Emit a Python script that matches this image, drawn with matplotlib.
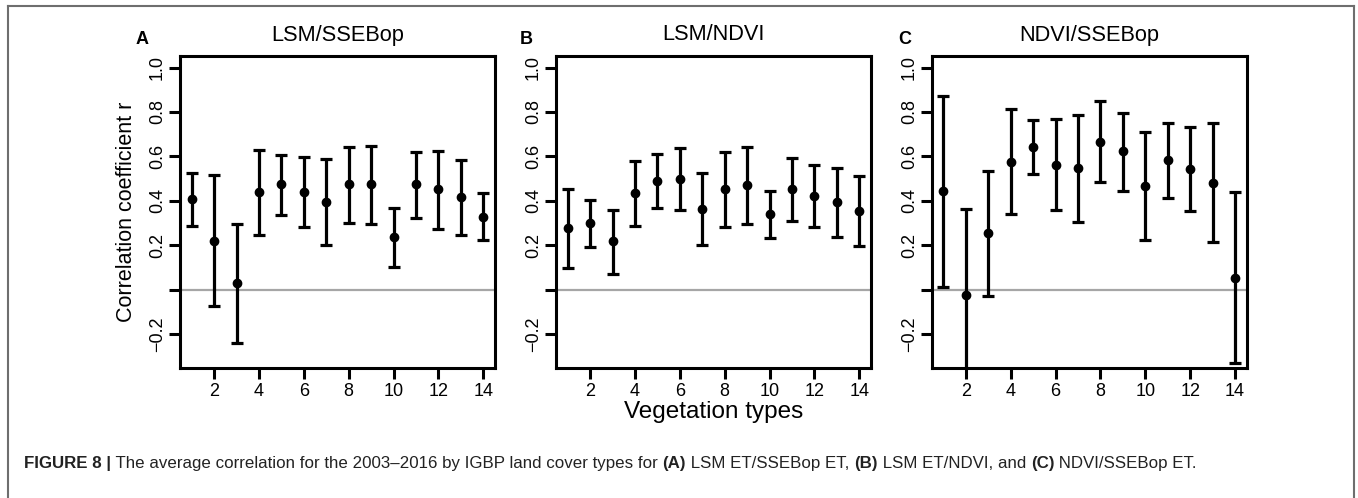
import matplotlib
matplotlib.use("Agg")
import matplotlib.pyplot as plt
from matplotlib import font_manager
from matplotlib.lines import Line2D

# ------------------------------------
# Datos
# ------------------------------------
tipos = list(range(1, 15))

titulos = ["LSM/SSEBop", "LSM/NDVI", "NDVI/SSEBop"]
letras = ["A", "B", "C"]

# LSM/SSEBop
media_a = [0.408, 0.219, 0.030, 0.441, 0.474, 0.439, 0.396, 0.474, 0.474, 0.236, 0.474, 0.451, 0.415, 0.328]
sup_a = [0.524, 0.516, 0.295, 0.629, 0.605, 0.599, 0.587, 0.644, 0.647, 0.366, 0.621, 0.624, 0.584, 0.436]
inf_a = [0.286, -0.074, -0.239, 0.245, 0.335, 0.283, 0.200, 0.298, 0.295, 0.102, 0.323, 0.272, 0.245, 0.223]

# LSM/NDVI
media_b = [0.278, 0.298, 0.219, 0.433, 0.490, 0.498, 0.364, 0.451, 0.470, 0.340, 0.451, 0.423, 0.393, 0.353]
sup_b = [0.454, 0.403, 0.358, 0.579, 0.611, 0.637, 0.524, 0.620, 0.641, 0.445, 0.594, 0.560, 0.549, 0.511]
inf_b = [0.098, 0.192, 0.072, 0.287, 0.366, 0.358, 0.200, 0.283, 0.295, 0.230, 0.310, 0.284, 0.235, 0.197]

# NDVI/SSEBop
media_c = [0.445, -0.026, 0.253, 0.576, 0.641, 0.561, 0.546, 0.666, 0.623, 0.468, 0.582, 0.542, 0.479, 0.054]
sup_c = [0.870, 0.363, 0.535, 0.813, 0.764, 0.769, 0.787, 0.849, 0.797, 0.710, 0.749, 0.733, 0.748, 0.439]
inf_c = [0.012, -0.420, -0.029, 0.339, 0.519, 0.358, 0.305, 0.484, 0.444, 0.223, 0.411, 0.355, 0.214, -0.331]

yticks = [1.0, 0.8, 0.6, 0.4, 0.2, 0.0, -0.2]
ytick_labels = ["1.0", "0.8", "0.6", "0.4", "0.2", "", "\u22120.2"]
xticks = [2, 4, 6, 8, 10, 12, 14]

caption_parts = [
    ("FIGURE 8 |", "bold"),
    (" The average correlation for the 2003\u20132016 by IGBP land cover types for ", "normal"),
    ("(A)", "bold"),
    (" LSM ET/SSEBop ET, ", "normal"),
    ("(B)", "bold"),
    (" LSM ET/NDVI, and ", "normal"),
    ("(C)", "bold"),
    (" NDVI/SSEBop ET.", "normal"),
]

# ------------------------------------
# Fuentes
# ------------------------------------
nombres = {f.name for f in font_manager.fontManager.ttflist}
fuente = "Liberation Sans" if "Liberation Sans" in nombres else "DejaVu Sans"
fuente_cap = "Liberation Sans Narrow" if "Liberation Sans Narrow" in nombres else fuente
plt.rcParams["font.family"] = fuente

# ------------------------------------
# Figura
# ------------------------------------
W, H = 1358, 498
fig = plt.figure(figsize=(W / 100, H / 100), dpi=100)

izq = [180, 556, 931.7]
ancho = 315
arriba, abajo = 56, 367.7

series = [(media_a, sup_a, inf_a), (media_b, sup_b, inf_b), (media_c, sup_c, inf_c)]
pos_letra = [141.7, 526, 905]

for i, (media, sup, inf) in enumerate(series):
    ax = fig.add_axes([izq[i] / W, 1 - abajo / H, ancho / W, (abajo - arriba) / H])
    ax.axhline(0, color="#a6a6a6", lw=1.6, zorder=1)
    err = [[m - lo for m, lo in zip(media, inf)], [hi - m for m, hi in zip(media, sup)]]
    ax.errorbar(tipos, media, yerr=err, fmt="o", color="black", ms=6,
                elinewidth=2.3, capsize=4.5, capthick=2.3, zorder=3)
    ax.set_xlim(0.48, 14.52)
    ax.set_ylim(-0.352, 1.052)
    ax.set_xticks(xticks)
    ax.set_xticklabels([str(t) for t in xticks], fontsize=13)
    ax.set_yticks(yticks)
    ax.set_yticklabels(ytick_labels, fontsize=13, rotation=90, va="center")
    ax.tick_params(axis="both", length=8, width=2.2, direction="out")
    ax.tick_params(axis="y", pad=2)
    ax.tick_params(axis="x", pad=3)
    for s in ax.spines.values():
        s.set_linewidth(2.2)
    fig.text((izq[i] + ancho / 2) / W, 1 - 35 / H, titulos[i], ha="center", va="center", fontsize=15.7)
    fig.text(pos_letra[i] / W, 1 - 40 / H, letras[i], ha="center", va="center",
             fontsize=13, fontweight="bold")

fig.text(126 / W, 1 - 212 / H, "Correlation coefficient r", rotation=90, ha="center",
         va="center", fontsize=15.5)
fig.text(714 / W, 1 - 412 / H, "Vegetation types", ha="center", va="center", fontsize=17.5)

# Marco de la figura
borde = "#6e6e6e"
fig.add_artist(Line2D([7.5 / W, 1354 / W], [1 - 6 / H, 1 - 6 / H], color=borde, lw=1.5))
fig.add_artist(Line2D([7.5 / W, 7.5 / W], [0, 1 - 6 / H], color=borde, lw=1.5))
fig.add_artist(Line2D([1354 / W, 1354 / W], [0, 1 - 6 / H], color=borde, lw=1.5))

# Leyenda de la figura (texto por partes)
renderer = fig.canvas.get_renderer()
x = 24 / W
for texto, peso in caption_parts:
    t = fig.text(x, 1 - 463 / H, texto, ha="left", va="center", fontsize=12.2,
                 fontweight=peso, family=fuente_cap, color="#222222")
    bb = t.get_window_extent(renderer=renderer)
    x = bb.x1 / W

fig.savefig("out.png", dpi=100)
